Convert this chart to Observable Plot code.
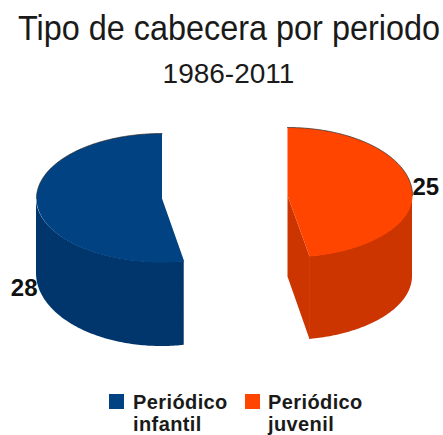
<!DOCTYPE html>
<html>
<head>
<meta charset="utf-8">
<script src="https://cdn.jsdelivr.net/npm/d3@7"></script>
<script src="https://cdn.jsdelivr.net/npm/@observablehq/plot@0.6"></script>
<style>
html,body{margin:0;padding:0;background:#fff;}
body{width:443px;height:435px;position:relative;overflow:hidden;font-family:"Liberation Sans",sans-serif;color:#1a1a1a;}
#title,#subtitle{position:absolute;left:0;width:443px;text-align:center;white-space:nowrap;}
#title{left:7.5px;top:8px;font-size:32.4px;line-height:40px;transform:scaleY(1.06);}
#subtitle{left:7px;top:59px;font-size:28px;line-height:30px;}
#chart{position:absolute;left:0;top:100px;}
.sw{position:absolute;top:394px;width:15px;height:15px;}
.lg{position:absolute;top:391px;font-size:20px;line-height:22px;font-weight:bold;letter-spacing:.4px;}
</style>
</head>
<body>
<div id="title">Tipo de cabecera por periodo</div>
<div id="subtitle">1986-2011</div>
<div id="chart"></div>
<div class="sw" id="sw0"></div><div class="lg" id="lg0" style="left:133px"></div>
<div class="sw" id="sw1"></div><div class="lg" id="lg1" style="left:268px"></div>
<script>
// Data
const categories = ["Periódico infantil", "Periódico juvenil"];
const values = [28, 25];
const topColors = ["#004282", "#ff4500"];
const wallColors = ["#00366b", "#cc3500"];
const edgeColor = "#2b2b2b";

// Pseudo-3D shape of each exploded slice (perspective of the original drawing)
const shapes = [
  {cx:161.5, cy:198, rx:125.5, ryBack:65, ryFront:64, baseCy:273, baseRy:73, wall:[170,270], labelX:37,  labelY:288, anchor:"end"},
  {cx:287,   cy:195, rx:125,   ryBack:68, ryFront:62, baseCy:276, baseRy:64, wall:[90,170],  labelX:412, labelY:187, anchor:"start"}
];

// Slice angles come from the values (juvenil clockwise from top, infantil the rest)
const pie = d3.pie().sort(null).value(d => d.value);
const arcs = pie([
  {name:categories[1], value:values[1], i:1},
  {name:categories[0], value:values[0], i:0}
]);

const toDeg = r => r * 180 / Math.PI;
const rad = d => d * Math.PI / 180;
const topPt = (s,deg) => {
  const c = Math.cos(rad(deg));
  return {x: s.cx + s.rx*Math.sin(rad(deg)), y: s.cy - (c>0 ? s.ryBack : s.ryFront)*c};
};
const basePt = (s,deg) => ({x: s.cx + s.rx*Math.sin(rad(deg)), y: s.baseCy - s.baseRy*Math.cos(rad(deg))});

const faces = [], walls = [], cuts = [], backEdges = [], labels = [];
for (const a of arcs) {
  const i = a.data.i, s = shapes[i];
  const a0 = Math.round(toDeg(a.startAngle)*10)/10, a1 = Math.round(toDeg(a.endAngle)*10)/10;
  // top face
  faces.push({i, x:s.cx, y:s.cy});
  for (const d of d3.range(a0, a1, 1).concat([a1])) faces.push({i, ...topPt(s,d)});
  // outer wall
  const w0 = i===0 ? a0 : 90, w1 = i===0 ? 270 : a1;
  for (const d of d3.range(w0, w1, 1).concat([w1])) {
    const t = topPt(s,d), b = basePt(s,d);
    walls.push({i, x:t.x, y1:t.y, y2:b.y});
  }
  // back rim
  const r0 = i===0 ? 270 : 0, r1 = i===0 ? 360 : 90;
  for (const d of d3.range(r0, r1, 1).concat([r1])) backEdges.push({i, ...topPt(s,d)});
  // visible cut face of the juvenil slice
  if (i===1) {
    const e = topPt(s,a1), f = basePt(s,a1);
    cuts.push({i, x:s.cx, y:s.cy},{i, x:e.x, y:e.y},{i, x:f.x, y:f.y},{i, x:s.cx, y:s.baseCy});
  }
  labels.push({x:s.labelX, y:s.labelY, text:String(a.data.value), anchor:s.anchor});
}

const plot = Plot.plot({
  width:443, height:275, margin:0,
  style:{background:"transparent", overflow:"visible"},
  x:{domain:[0,443], range:[0,443], axis:null},
  y:{domain:[100,375], range:[0,275], axis:null},
  color:{type:"identity"},
  marks:[
    Plot.areaY(walls, {x:"x", y1:"y1", y2:"y2", z:"i", fill:d=>wallColors[d.i], curve:"linear"}),
    Plot.line(cuts, {x:"x", y:"y", z:"i", fill:d=>wallColors[d.i], stroke:"none", curve:"linear"}),
    Plot.line(faces, {x:"x", y:"y", z:"i", fill:d=>topColors[d.i], stroke:"none", curve:"linear"}),
    Plot.line(backEdges, {x:"x", y:"y", z:"i", stroke:edgeColor, strokeWidth:0.7, curve:"linear"}),
    ...labels.map(l => Plot.text([l], {x:"x", y:"y", text:"text", textAnchor:l.anchor, fontSize:24, fontWeight:"bold", fill:"#111", fontFamily:"Liberation Sans"}))
  ]
});
document.getElementById("chart").appendChild(plot);

// Legend
categories.forEach((c,i)=>{
  const sw = document.getElementById("sw"+i);
  sw.style.background = topColors[i];
  sw.style.left = (i===0 ? 109 : 245) + "px";
  document.getElementById("lg"+i).innerHTML = c.replace(" ","<br>");
});
</script>
</body>
</html>
